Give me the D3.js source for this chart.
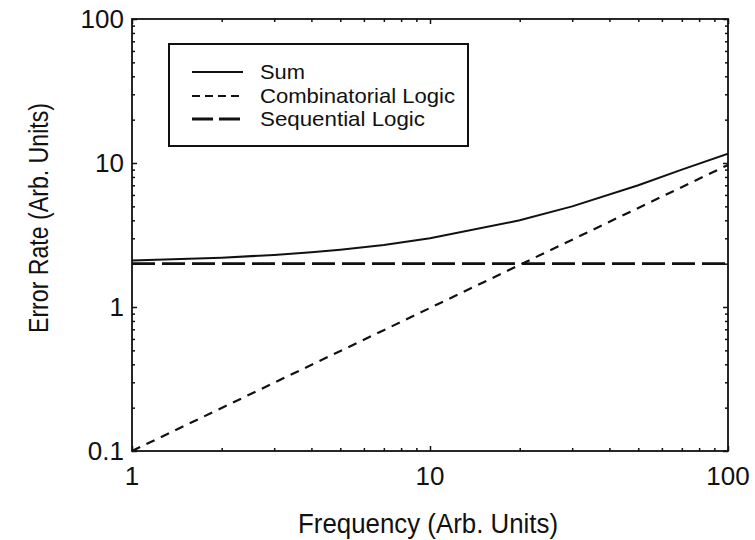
<!DOCTYPE html>
<html>
<head>
<meta charset="utf-8">
<script src="https://cdn.jsdelivr.net/npm/d3@7"></script>
<style>
  body { margin: 0; background: #fff; }
  svg text { font-family: "Liberation Sans", Arial, Helvetica, sans-serif; fill: #111; }
</style>
</head>
<body>
<svg id="chart" width="755" height="540"></svg>
<script>
// ---- data ----
const sumFreq   = [1, 2, 3, 4, 5, 7, 10, 20, 30, 50, 70, 100];
const sumValues = [2.1, 2.2, 2.3, 2.4, 2.5, 2.7, 3.0, 4.0, 5.0, 7.0, 9.0, 11.6];
const combFreq   = [1, 100];
const combValues = [0.1, 9.7];
const seqFreq   = [1, 100];
const seqValues = [2, 2];
const xTickLabels = ["1", "10", "100"];
const yTickLabels = ["0.1", "1", "10", "100"];
const legendLabels = ["Sum", "Combinatorial Logic", "Sequential Logic"];

// ---- layout ----
const svg = d3.select("#chart");
const L = 132, R = 728, T = 19, B = 451;
const x = d3.scaleLog().domain([1, 100]).range([L, R]);
const y = d3.scaleLog().domain([0.1, 100]).range([B, T]);

const xTicks = [];
for (let d = 1; d < 100; d *= 10) for (let k = 1; k < 10; k++) xTicks.push(d * k);
xTicks.push(100);
const yTicks = [];
for (let d = 0.1; d < 100; d *= 10) for (let k = 1; k < 10; k++) yTicks.push(+(d * k).toPrecision(3));
yTicks.push(100);
const isMajor = v => Math.abs(Math.log10(v) - Math.round(Math.log10(v))) < 1e-6;

function styleAxis(g) {
  g.select(".domain").remove();
  g.selectAll("text").remove();
  g.selectAll(".tick line").attr("stroke", "#111").attr("stroke-width", 1.5);
}
function setLen(g, horizontal, sign) {
  g.selectAll(".tick line").each(function(d) {
    const len = isMajor(d) ? 5 : 3;
    d3.select(this).attr(horizontal ? "y2" : "x2", sign * len);
  });
}
svg.append("g").attr("transform", `translate(0,${B})`)
  .call(d3.axisBottom(x).tickValues(xTicks)).call(styleAxis).call(g => setLen(g, true, -1));
svg.append("g").attr("transform", `translate(0,${T})`)
  .call(d3.axisTop(x).tickValues(xTicks)).call(styleAxis).call(g => setLen(g, true, 1));
svg.append("g").attr("transform", `translate(${L},0)`)
  .call(d3.axisLeft(y).tickValues(yTicks)).call(styleAxis).call(g => setLen(g, false, 1));
svg.append("g").attr("transform", `translate(${R},0)`)
  .call(d3.axisRight(y).tickValues(yTicks)).call(styleAxis).call(g => setLen(g, false, -1));

// frame
svg.append("rect").attr("x", L).attr("y", T).attr("width", R - L).attr("height", B - T)
  .attr("fill", "none").attr("stroke", "#111").attr("stroke-width", 1.8);

// tick labels
svg.selectAll(".xl").data(xTickLabels).enter().append("text")
  .attr("x", d => x(+d)).attr("y", 485).attr("text-anchor", "middle")
  .style("font-size", "26px").text(d => d);
svg.selectAll(".yl").data(yTickLabels).enter().append("text")
  .attr("x", 124).attr("y", d => y(+d)).attr("dy", "0.36em").attr("text-anchor", "end")
  .style("font-size", "26px").text(d => d);

// axis titles
svg.append("text").attr("x", 428).attr("y", 533).attr("text-anchor", "middle")
  .attr("textLength", 260).attr("lengthAdjust", "spacingAndGlyphs")
  .style("font-size", "27px").text("Frequency (Arb. Units)");
svg.append("text").attr("transform", "translate(48,218) rotate(-90)").attr("text-anchor", "middle")
  .attr("textLength", 230).attr("lengthAdjust", "spacingAndGlyphs")
  .style("font-size", "27px").text("Error Rate (Arb. Units)");

// series
const line = d3.line().x(d => x(d[0])).y(d => y(d[1]));
svg.append("clipPath").attr("id", "clip").append("rect")
  .attr("x", L).attr("y", T).attr("width", R - L).attr("height", B - T);
const plot = svg.append("g").attr("clip-path", "url(#clip)");
plot.append("path").datum(d3.zip(seqFreq, seqValues)).attr("d", line)
  .attr("fill", "none").attr("stroke", "#111").attr("stroke-width", 2.8).attr("stroke-dasharray", "23,7");
plot.append("path").datum(d3.zip(combFreq, combValues)).attr("d", line)
  .attr("fill", "none").attr("stroke", "#111").attr("stroke-width", 2.2).attr("stroke-dasharray", "9,7");
plot.append("path").datum(d3.zip(sumFreq, sumValues)).attr("d", line)
  .attr("fill", "none").attr("stroke", "#111").attr("stroke-width", 2);

// legend
svg.append("rect").attr("x", 169).attr("y", 44).attr("width", 299).attr("height", 102)
  .attr("fill", "#fff").attr("stroke", "#111").attr("stroke-width", 2);
const legendDash = [null, "8,5", "21,6"];
const legendWidth = [2, 2.2, 2.8];
const legendTextLen = [45, 195, 165];
const legendY = [72, 96, 119];
legendLabels.forEach((lab, i) => {
  svg.append("line").attr("x1", 192).attr("x2", 243).attr("y1", legendY[i]).attr("y2", legendY[i])
    .attr("stroke", "#111").attr("stroke-width", legendWidth[i])
    .attr("stroke-dasharray", legendDash[i]);
  svg.append("text").attr("x", 260).attr("y", legendY[i] + 7)
    .attr("textLength", legendTextLen[i]).attr("lengthAdjust", "spacingAndGlyphs")
    .style("font-size", "21px").text(lab);
});
</script>
</body>
</html>
